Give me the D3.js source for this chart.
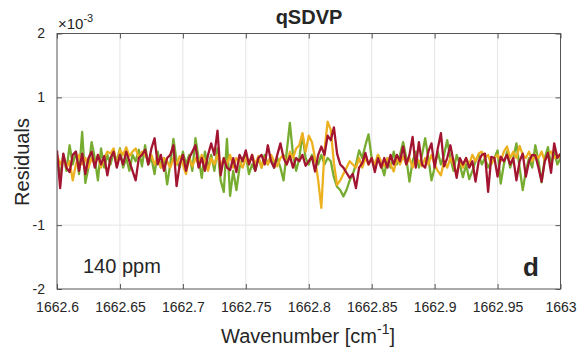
<!DOCTYPE html>
<html><head><meta charset="utf-8">
<script src="https://cdn.jsdelivr.net/npm/d3@7"></script>
<style>body{margin:0;background:#fff}svg{display:block}text{font-family:"Liberation Sans",Arial,sans-serif;fill:#262626}</style>
</head><body><svg id="c" width="581" height="354"></svg>
<script>
const xStart = 1662.6, xStep = 0.0025;
const xTicks = [1662.6,1662.65,1662.7,1662.75,1662.8,1662.85,1662.9,1662.95,1663];
const xTickLabels = ["1662.6","1662.65","1662.7","1662.75","1662.8","1662.85","1662.9","1662.95","1663"];
const yTicks = [-2,-1,1,2];
const yTickLabels = ["-2","-1","1","2"];
const seriesNames = ["green","orange","red"];
const green = [0.05,-0.25,0.10,-0.15,0.25,-0.05,0.15,-0.20,0.46,-0.34,
-0.10,0.30,0.05,-0.30,0.20,-0.10,0.10,-0.05,0.15,0.00,
0.20,-0.10,0.05,-0.15,0.10,0.00,0.18,-0.08,0.25,-0.05,
0.05,-0.20,0.15,-0.10,0.05,-0.36,-0.05,0.35,0.00,-0.10,
0.15,-0.05,0.10,-0.15,0.36,0.05,-0.26,0.15,-0.10,0.10,
-0.15,0.20,-0.30,-0.48,0.35,-0.54,-0.15,-0.45,-0.10,0.05,
0.10,-0.20,-0.05,-0.15,0.05,-0.10,0.10,-0.05,0.08,-0.10,
0.05,-0.10,-0.30,0.15,0.60,0.10,-0.15,0.05,0.42,0.05,
-0.05,0.10,0.00,-0.05,0.10,-0.05,0.05,0.00,-0.25,-0.40,
-0.45,-0.55,-0.45,-0.30,-0.20,-0.05,0.17,0.05,0.25,0.42,
0.05,-0.10,0.10,-0.05,-0.22,0.05,-0.10,0.15,-0.05,0.10,
0.30,0.05,-0.32,0.00,0.15,-0.10,0.10,0.36,0.05,-0.30,
-0.10,0.15,-0.05,0.10,0.33,0.05,-0.15,0.10,-0.05,-0.25,
-0.05,-0.28,-0.15,0.00,0.10,-0.05,0.05,-0.10,0.00,0.05,
0.17,-0.35,-0.05,0.15,-0.10,0.05,0.28,-0.10,-0.45,-0.15,
0.05,-0.10,0.25,0.00,-0.33,0.05,0.22,-0.05,0.15,-0.05,0.05];
const orange = [0.10,-0.05,0.05,-0.10,0.00,-0.30,-0.05,0.10,-0.05,0.05,
-0.10,0.05,-0.05,0.10,-0.10,0.05,0.15,0.12,0.20,-0.08,
0.18,0.10,0.22,0.08,0.15,0.20,0.05,0.15,0.10,0.00,
0.10,-0.05,0.05,-0.10,0.05,0.00,-0.10,0.05,-0.05,0.08,
-0.05,-0.20,0.05,-0.08,0.05,-0.05,0.10,0.00,-0.15,0.05,
-0.05,0.10,-0.08,0.05,-0.05,0.10,-0.10,0.05,0.00,-0.10,
0.05,-0.05,0.10,-0.05,0.08,-0.10,0.05,-0.05,0.10,0.00,
-0.08,0.05,0.10,-0.05,0.15,0.05,0.20,0.25,0.44,0.15,
0.40,0.30,0.05,-0.30,-0.73,0.17,0.62,0.49,-0.03,-0.37,
-0.30,-0.20,-0.10,0.00,-0.05,-0.10,0.05,-0.10,0.05,-0.05,
0.05,-0.05,0.10,0.00,-0.08,0.05,-0.05,-0.16,0.05,-0.05,
0.08,-0.05,0.05,-0.10,0.05,0.00,-0.08,0.05,-0.05,0.10,
-0.05,-0.15,-0.22,0.00,-0.10,0.05,-0.05,-0.20,0.00,-0.10,
0.05,-0.05,0.10,0.00,0.12,0.15,0.05,0.10,-0.05,0.05,
0.10,0.00,0.15,0.23,0.05,0.15,0.05,0.24,0.10,0.05,
0.15,0.00,0.10,0.05,0.15,0.00,0.10,0.15,0.05,0.10,0.05];
const red = [0.17,-0.42,0.12,-0.10,-0.17,0.10,0.15,-0.15,0.12,-0.20,
0.05,0.15,-0.10,0.10,-0.05,0.08,-0.22,0.05,0.15,-0.10,
0.10,-0.05,0.15,0.00,-0.15,-0.30,0.05,0.10,0.18,-0.05,
0.20,0.36,-0.05,0.10,-0.15,0.05,0.10,0.25,-0.39,-0.05,
0.10,-0.15,0.05,0.15,0.25,-0.10,0.05,-0.15,0.10,0.28,
0.10,0.48,-0.22,0.05,-0.10,-0.14,0.05,-0.17,0.10,0.00,
0.17,-0.05,0.10,-0.15,0.05,0.10,-0.05,0.25,0.00,-0.10,
0.10,0.28,0.05,-0.05,0.08,-0.10,0.05,0.00,0.10,-0.07,
0.00,0.07,-0.16,0.10,0.23,0.10,0.40,0.33,0.53,0.12,
-0.05,-0.10,-0.18,-0.26,-0.20,-0.42,-0.10,-0.03,0.13,-0.05,
0.05,-0.17,0.05,-0.10,0.05,-0.10,0.10,-0.05,0.10,0.00,
0.23,-0.05,0.10,0.38,-0.10,0.30,-0.05,-0.10,0.15,0.28,
-0.10,0.20,0.44,-0.08,0.05,0.25,0.00,-0.26,0.05,-0.05,
0.05,-0.10,0.00,-0.32,0.00,0.10,0.12,-0.48,0.07,0.05,
-0.24,0.07,0.00,0.10,-0.05,0.05,-0.30,0.00,0.12,-0.24,
0.00,0.10,0.09,-0.10,-0.32,0.00,0.13,-0.18,0.28,0.05,0.12];

const colors = {green:"#77AC30", orange:"#EDB120", red:"#A2142F"};
const seriesData = {green, orange, red};

const L=57, R=560.5, T=33.5, B=289;
const svg = d3.select("#c");
const x = d3.scaleLinear().domain([1662.6,1663]).range([L,R]);
const y = d3.scaleLinear().domain([-2,2]).range([B,T]);

// grid
svg.append("g").selectAll("line").data(xTicks.slice(1,-1)).join("line")
  .attr("x1",d=>x(d)).attr("x2",d=>x(d)).attr("y1",T).attr("y2",B)
  .attr("stroke","#e5e5e5").attr("stroke-width",1);
svg.append("g").selectAll("line").data([-1,1]).join("line")
  .attr("y1",d=>y(d)).attr("y2",d=>y(d)).attr("x1",L).attr("x2",R)
  .attr("stroke","#e5e5e5").attr("stroke-width",1);

// lines
svg.append("clipPath").attr("id","cp").append("rect")
  .attr("x",L).attr("y",T).attr("width",R-L).attr("height",B-T);
const line = d3.line().x((d,i)=>x(xStart+i*xStep)).y(d=>y(d));
const lg = svg.append("g").attr("clip-path","url(#cp)");
seriesNames.forEach(n=>{
  lg.append("path").datum(seriesData[n]).attr("d",line)
    .attr("fill","none").attr("stroke",colors[n]).attr("stroke-width",2.3)
    .attr("stroke-linejoin","round");
});

// axes
const axCol="#262626";
const xb = d3.axisBottom(x).tickValues(xTicks).tickFormat((d,i)=>xTickLabels[i]).tickSizeInner(-5).tickSizeOuter(0).tickPadding(13);
const gx = svg.append("g").attr("transform",`translate(0,${B})`).call(xb);
gx.selectAll("text").attr("font-size",14).attr("fill",axCol).style("font-family","Liberation Sans, Arial, sans-serif");
const xt = d3.axisTop(x).tickValues(xTicks).tickFormat("").tickSizeInner(-5).tickSizeOuter(0);
svg.append("g").attr("transform",`translate(0,${T})`).call(xt);
const yl = d3.axisLeft(y).tickValues(yTicks).tickFormat((d,i)=>yTickLabels[yTicks.indexOf(d)]).tickSizeInner(-5).tickSizeOuter(0).tickPadding(12);
const gy = svg.append("g").attr("transform",`translate(${L},0)`).call(yl);
gy.selectAll("text").attr("font-size",14).attr("fill",axCol).style("font-family","Liberation Sans, Arial, sans-serif");
const yr = d3.axisRight(y).tickValues(yTicks).tickFormat("").tickSizeInner(-5).tickSizeOuter(0);
svg.append("g").attr("transform",`translate(${R},0)`).call(yr);
svg.selectAll(".domain").remove();
svg.selectAll(".tick line").attr("stroke","#555");
svg.append("rect").attr("x",L).attr("y",T).attr("width",R-L).attr("height",B-T)
  .attr("fill","none").attr("stroke","#555").attr("stroke-width",1);

// texts
svg.append("text").attr("x",309).attr("y",24).attr("text-anchor","middle")
  .attr("font-size",20).attr("font-weight","bold").attr("fill","#000").text("qSDVP");
const ex = svg.append("text").attr("x",58).attr("y",29).attr("font-size",15).attr("fill",axCol);
ex.append("tspan").text("\u00d710");
ex.append("tspan").attr("dy",-7).attr("font-size",11).text("-3");
svg.append("text").attr("transform","translate(29,162) rotate(-90)").attr("text-anchor","middle")
  .attr("font-size",20).attr("fill",axCol).text("Residuals");
const xl = svg.append("text").attr("x",308).attr("y",343).attr("text-anchor","middle").attr("font-size",20).attr("fill",axCol);
xl.append("tspan").text("Wavenumber [cm");
xl.append("tspan").attr("dy",-9).attr("font-size",14).text("-1");
xl.append("tspan").attr("dy",9).text("]");
svg.append("text").attr("x",83).attr("y",273).attr("font-size",20).attr("fill","#000").text("140 ppm");
svg.append("text").attr("x",523).attr("y",276).attr("font-size",26).attr("font-weight","bold").attr("fill","#000").text("d");
</script></body></html>
